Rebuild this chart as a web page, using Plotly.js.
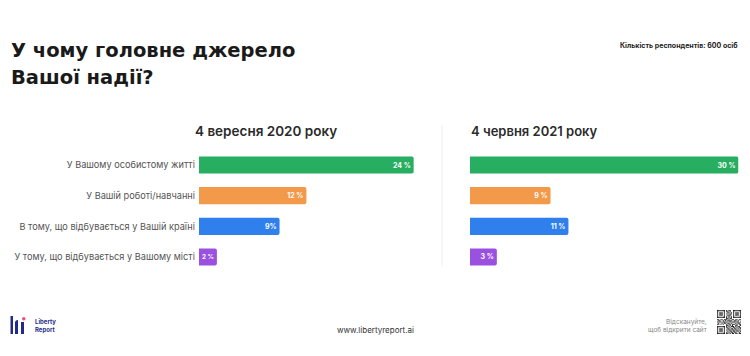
<!DOCTYPE html>
<html>
<head>
<meta charset="utf-8">
<script src="https://cdn.plot.ly/plotly-3.0.1.min.js"></script>
<style>html,body{margin:0;padding:0;background:#fff;}#chart{width:750px;height:356px;}</style>
</head>
<body>
<div id="chart"></div>
<script>
const categories = [
  "У Вашому особистому житті",
  "У Вашій роботі/навчанні",
  "В тому, що відбувається у Вашій країні",
  "У тому, що відбувається у Вашому місті"
];
const values2020 = [24, 12, 9, 2];
const labels2020 = ["24 %", "12 %", "9%", "2 %"];
const values2021 = [30, 9, 11, 3];
const labels2021 = ["30 %", "9 %", "11 %", "3 %"];
const barColors = ["#27AE60", "#F2994A", "#2F80ED", "#9B51E0"];
const panelTitles = ["4 вересня 2020 року", "4 червня 2021 року"];
const titleLines = ["У чому головне джерело", "Вашої надії?"];

const FONT = "Inter, 'Open Sans', sans-serif";
const HEAD = "'DejaVu Sans', Inter, sans-serif";
const W = 750, H = 356;
const px = v => v / W, py = v => 1 - v / H;

const common = {
  type: "bar", orientation: "h", y: categories,
  marker: {color: barColors},
  textposition: "inside", insidetextanchor: "end",
  textfont: {family: FONT, size: 7, color: "#ffffff", weight: 700},
  cliponaxis: false, hoverinfo: "skip", showlegend: false
};
const traces = [
  Object.assign({}, common, {x: values2020, text: labels2020, xaxis: "x", yaxis: "y"}),
  Object.assign({}, common, {x: values2021, text: labels2021, xaxis: "x2", yaxis: "y2"})
];

const yTop = 149.7, yBot = 272.3;
const scale = 8.95;
const headFont = {family: HEAD, size: 19.5, color: "#1a1a1a", weight: 700};
const layout = {
  width: W, height: H,
  margin: {l: 0, r: 0, t: 0, b: 0},
  paper_bgcolor: "#ffffff", plot_bgcolor: "rgba(0,0,0,0)",
  font: {family: FONT},
  bargap: 0.44,
  barcornerradius: 2,
  title: {
    text: titleLines[0],
    x: px(11), xanchor: "left", y: py(50), yanchor: "middle",
    xref: "paper", yref: "paper",
    font: headFont
  },
  xaxis: {domain: [px(199), px(199 + scale * 24)], range: [0, 24], visible: false, fixedrange: true},
  xaxis2: {domain: [px(470), px(470 + scale * 30)], range: [0, 30], visible: false, fixedrange: true},
  yaxis: {
    domain: [py(yBot), py(yTop)], anchor: "x", autorange: "reversed",
    showgrid: false, zeroline: false, showline: false, ticks: "",
    ticklabelstandoff: 3,
    tickfont: {family: FONT, size: 9.2, color: "#555555"}
  },
  yaxis2: {
    domain: [py(yBot), py(yTop)], anchor: "x2", autorange: "reversed",
    showgrid: false, zeroline: false, showline: false, showticklabels: false, ticks: ""
  },
  shapes: [
    {type: "line", xref: "paper", yref: "paper", x0: px(442), x1: px(442), y0: py(125), y1: py(266),
     line: {color: "#eeeeee", width: 1}},
    // logo
    {type: "rect", xref: "paper", yref: "paper", x0: px(10.5), x1: px(13), y0: py(334), y1: py(316), fillcolor: "#1f2a8a", line: {width: 0}},
    {type: "path", xref: "paper", yref: "paper",
     path: `M ${px(15)} ${py(334)} L ${px(15)} ${py(323)} Q ${px(15)} ${py(320)} ${px(18)} ${py(320)} L ${px(18)} ${py(334)} Z`,
     fillcolor: "#1f2a8a", line: {width: 0}},
    {type: "rect", xref: "paper", yref: "paper", x0: px(21), x1: px(24), y0: py(334), y1: py(322), fillcolor: "#1f2a8a", line: {width: 0}},
    {type: "circle", xref: "paper", yref: "paper", x0: px(22), x1: px(25.5), y0: py(320.5), y1: py(317), fillcolor: "#ef4f78", line: {width: 0}}
  ],
  annotations: [
    {text: titleLines[1], xref: "paper", yref: "paper", x: px(9), y: py(77), xanchor: "left", yanchor: "middle",
     showarrow: false, font: headFont},
    {text: panelTitles[0], xref: "paper", yref: "paper", x: px(266), y: py(131), xanchor: "center", yanchor: "middle",
     showarrow: false, font: {family: FONT, size: 13.5, color: "#2b2b2b", weight: 600}},
    {text: panelTitles[1], xref: "paper", yref: "paper", x: px(469), y: py(131), xanchor: "left", yanchor: "middle",
     showarrow: false, font: {family: FONT, size: 13, color: "#2b2b2b", weight: 600}},
    {text: "Кількість респондентів: 600 осіб", xref: "paper", yref: "paper", x: px(739), y: py(45), xanchor: "right", yanchor: "middle",
     showarrow: false, font: {family: FONT, size: 7, color: "#222222", weight: 700}},
    {text: "Liberty<br>Report", xref: "paper", yref: "paper", x: px(33), y: py(326), xanchor: "left", yanchor: "middle", align: "left",
     showarrow: false, font: {family: FONT, size: 6, color: "#1f2a8a", weight: 700}},
    {text: "www.libertyreport.ai", xref: "paper", yref: "paper", x: px(375), y: py(330), xanchor: "center", yanchor: "middle",
     showarrow: false, font: {family: FONT, size: 8, color: "#333333"}},
    {text: "Відскануйте,<br>щоб відкрити сайт", xref: "paper", yref: "paper", x: px(709), y: py(326), xanchor: "right", yanchor: "middle", align: "right",
     showarrow: false, font: {family: FONT, size: 6.5, color: "#888888"}}
  ]
};

// QR-like decoration
const qx = 717, qy = 310, cell = 24 / 21;
const qr = [
  "111111101011001111111",
  "100000101101001000001",
  "101110100110101011101",
  "101110101001101011101",
  "101110100111001011101",
  "100000101010101000001",
  "111111101010101111111",
  "000000001101100000000",
  "110110111010011011011",
  "011001010111100110100",
  "101101101001011101101",
  "010010110110100010110",
  "110101001011011101011",
  "000000001101010011001",
  "111111101010111010110",
  "100000101101001101011",
  "101110100110110110101",
  "101110101011011011010",
  "101110100101101101101",
  "100000101010110110010",
  "111111101101011011011"
];
qr.forEach((row, r) => {
  for (let c = 0; c < row.length; c++) {
    if (row[c] === "1") {
      layout.shapes.push({type: "rect", xref: "paper", yref: "paper",
        x0: px(qx + c * cell), x1: px(qx + (c + 1) * cell),
        y0: py(qy + r * cell), y1: py(qy + (r + 1) * cell),
        fillcolor: "#222222", line: {width: 0}});
    }
  }
});

Plotly.newPlot("chart", traces, layout, {displayModeBar: false, staticPlot: true});
</script>
</body>
</html>
